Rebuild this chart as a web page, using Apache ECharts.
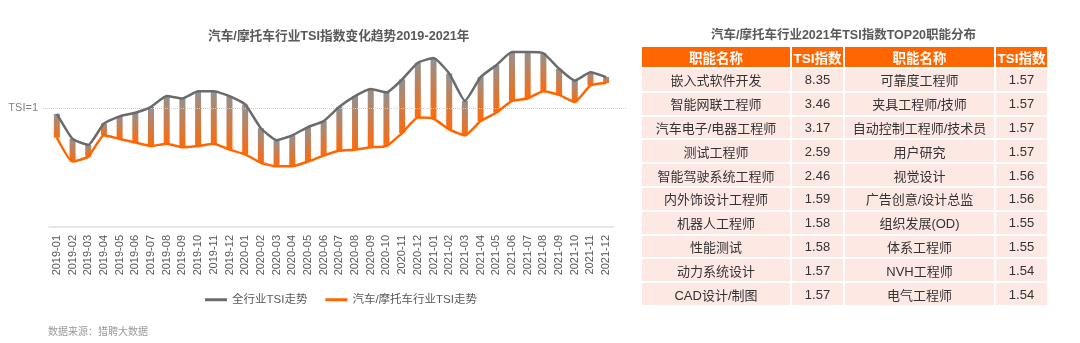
<!DOCTYPE html>
<html><head><meta charset="utf-8">
<script src="https://cdn.jsdelivr.net/npm/echarts@6/dist/echarts.min.js"></script>
<style>
html,body{margin:0;padding:0;background:#fff;width:1080px;height:343px;overflow:hidden;font-family:"Liberation Sans","Noto Sans CJK SC",sans-serif;}
#chart{position:absolute;left:0;top:0;width:1080px;height:343px;}
#ttitle{position:absolute;left:640px;top:24px;width:407px;text-align:center;font-size:12.5px;font-weight:bold;color:#595959;}
#tbl{position:absolute;left:640px;top:45px;border-collapse:collapse;table-layout:fixed;}
#tbl td,#tbl th{border:2px solid #fff;text-align:center;padding:0;font-size:13px;color:#333;white-space:nowrap;}
#tbl th{background:#ff6600;color:#fff;font-weight:bold;font-size:13.5px;height:19px;}
#tbl td{background:#fde8e4;height:21.8px;}
</style></head><body>
<div id="chart"></div>
<div id="ttitle">汽车/摩托车行业2021年TSI指数TOP20职能分布</div>
<table id="tbl"><colgroup><col style="width:150px"><col style="width:53px"><col style="width:151px"><col style="width:53px"></colgroup><thead></thead><tbody></tbody></table>
<script>
const months = ['2019-01','2019-02','2019-03','2019-04','2019-05','2019-06','2019-07','2019-08','2019-09','2019-10','2019-11','2019-12',
'2020-01','2020-02','2020-03','2020-04','2020-05','2020-06','2020-07','2020-08','2020-09','2020-10','2020-11','2020-12',
'2021-01','2021-02','2021-03','2021-04','2021-05','2021-06','2021-07','2021-08','2021-09','2021-10','2021-11','2021-12'];
const allIndustry = [0.95,0.74,0.69,0.87,0.93,0.96,1.01,1.10,1.08,1.14,1.14,1.10,
1.03,0.83,0.73,0.77,0.84,0.89,1.01,1.10,1.16,1.13,1.24,1.38,
1.42,1.29,1.06,1.26,1.36,1.47,1.47,1.46,1.33,1.23,1.30,1.26];
const autoIndustry = [0.75,0.55,0.59,0.77,0.74,0.71,0.68,0.70,0.67,0.68,0.70,0.65,
0.61,0.54,0.51,0.51,0.55,0.60,0.64,0.65,0.67,0.68,0.79,0.92,
0.91,0.82,0.77,0.89,0.96,1.06,1.08,1.14,1.11,1.05,1.19,1.21];
const seriesNames = ['全行业TSI走势','汽车/摩托车行业TSI走势'];
const baseline = 1;
const tableHeader = ['职能名称','TSI指数','职能名称','TSI指数'];
const jobsLeft = ['嵌入式软件开发','智能网联工程师','汽车电子/电器工程师','测试工程师','智能驾驶系统工程师','内外饰设计工程师','机器人工程师','性能测试','动力系统设计','CAD设计/制图'];
const tsiLeft = ['8.35','3.46','3.17','2.59','2.46','1.59','1.58','1.58','1.57','1.57'];
const jobsRight = ['可靠度工程师','夹具工程师/技师','自动控制工程师/技术员','用户研究','视觉设计','广告创意/设计总监','组织发展(OD)','体系工程师','NVH工程师','电气工程师'];
const tsiRight = ['1.57','1.57','1.57','1.57','1.56','1.56','1.55','1.55','1.54','1.54'];

// table
const thead = document.querySelector('#tbl thead');
thead.innerHTML = '<tr>' + tableHeader.map(h => '<th>' + h + '</th>').join('') + '</tr>';
const tbody = document.querySelector('#tbl tbody');
tbody.innerHTML = jobsLeft.map((j, i) => '<tr><td>' + j + '</td><td>' + tsiLeft[i] + '</td><td>' + jobsRight[i] + '</td><td>' + tsiRight[i] + '</td></tr>').join('');

const diff = allIndustry.map((v, i) => +(v - autoIndustry[i]).toFixed(3));
const chart = echarts.init(document.getElementById('chart'));
const font = '"Liberation Sans","Noto Sans CJK SC",sans-serif';
chart.setOption({
  animation: false,
  textStyle: { fontFamily: font },
  title: { text: '汽车/摩托车行业TSI指数变化趋势2019-2021年', left: 203, top: 25,
    textStyle: { fontSize: 12.7, fontWeight: 'bold', color: '#595959', fontFamily: font } },
  legend: { data: seriesNames, left: 200, top: 289, itemWidth: 22, itemHeight: 3, itemGap: 18, icon: 'rect',
    textStyle: { fontSize: 11.5, color: '#595959', fontFamily: font } },
  graphic: [{ type: 'text', left: 48, top: 327, style: { text: '数据来源：猎聘大数据', fontSize: 10, fill: '#999', fontFamily: font } }],
  grid: [
    { left: 49, right: 466, top: 24.7, bottom: 116 },
    { left: 43, right: 453, top: 24.7, bottom: 116 }
  ],
  xAxis: [
    { type: 'category', data: months, gridIndex: 0, boundaryGap: true,
      axisLine: { lineStyle: { color: '#e0e0e0', width: 1.5 } }, axisTick: { show: false },
      axisLabel: { rotate: 90, interval: 0, fontSize: 11, color: '#595959', margin: 8 } },
    { type: 'value', gridIndex: 1, show: false, min: 0, max: 1 }
  ],
  yAxis: [
    { type: 'value', gridIndex: 0, min: 0, max: 1.7, show: false },
    { type: 'value', gridIndex: 1, min: 0, max: 1.7, show: false }
  ],
  series: [
    { type: 'bar', stack: 'gap', data: autoIndustry, barWidth: 6, itemStyle: { color: 'transparent' }, silent: true },
    { type: 'bar', stack: 'gap', data: diff, barWidth: 6, silent: true,
      itemStyle: { color: new echarts.graphic.LinearGradient(0, 0, 0, 1, [
        { offset: 0, color: '#929292' }, { offset: 1, color: '#ff6a0a' }]) } },
    { name: seriesNames[0], type: 'line', data: allIndustry, symbol: 'none', smooth: 0.15, z: 5,
      lineStyle: { color: '#6b6b6b', width: 2.5 }, itemStyle: { color: '#6b6b6b' } },
    { name: seriesNames[1], type: 'line', data: autoIndustry, symbol: 'none', smooth: 0.15, z: 5,
      lineStyle: { color: '#ff6600', width: 2.5 }, itemStyle: { color: '#ff6600' } },
    { type: 'line', xAxisIndex: 1, yAxisIndex: 1, data: [], silent: true,
      markLine: { symbol: 'none', silent: true,
        lineStyle: { type: 'dotted', color: '#cfcfcf', width: 1 },
        label: { position: 'start', formatter: 'TSI=1', color: '#808080', fontSize: 11, distance: 5 },
        data: [{ yAxis: baseline }] } }
  ]
});
</script>
</body></html>
